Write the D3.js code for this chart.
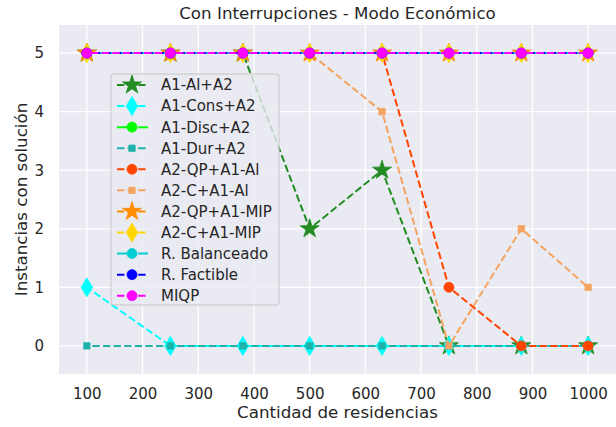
<!DOCTYPE html>
<html>
<head>
<meta charset="utf-8">
<script src="https://cdn.jsdelivr.net/npm/d3@7"></script>
<style>
  html, body { margin: 0; padding: 0; background: #ffffff; }
  svg { display: block; font-family: "DejaVu Sans", sans-serif; }
</style>
</head>
<body>
<svg id="chart" width="616" height="427"></svg>
<script>
// ---- data ----
const sizes = [100, 250, 380, 500, 630, 750, 880, 1000];
const xTicks = [100, 200, 300, 400, 500, 600, 700, 800, 900, 1000];
const yTicks = [0, 1, 2, 3, 4, 5];

const a1AlA2      = [5, 5, 5, 2, 3, 0, 0, 0];
const a1ConsA2    = [1, 0, 0, 0, 0, 0, 0, 0];
const a1DiscA2    = [5, 5, 5, 5, 5, 5, 5, 5];
const a1DurA2     = [0, 0, 0, 0, 0, 0, 0, 0];
const a2QPA1Al    = [5, 5, 5, 5, 5, 1, 0, 0];
const a2CA1Al     = [5, 5, 5, 5, 4, 0, 2, 1];
const a2QPA1MIP   = [5, 5, 5, 5, 5, 5, 5, 5];
const a2CA1MIP    = [5, 5, 5, 5, 5, 5, 5, 5];
const rBalanceado = [5, 5, 5, 5, 5, 5, 5, 5];
const rFactible   = [5, 5, 5, 5, 5, 5, 5, 5];
const miqp        = [5, 5, 5, 5, 5, 5, 5, 5];

const seriesNames = ["A1-Al+A2", "A1-Cons+A2", "A1-Disc+A2", "A1-Dur+A2", "A2-QP+A1-Al",
  "A2-C+A1-Al", "A2-QP+A1-MIP", "A2-C+A1-MIP", "R. Balanceado", "R. Factible", "MIQP"];
const seriesValues = [a1AlA2, a1ConsA2, a1DiscA2, a1DurA2, a2QPA1Al, a2CA1Al,
  a2QPA1MIP, a2CA1MIP, rBalanceado, rFactible, miqp];

const title = "Con Interrupciones - Modo Económico";
const xLabel = "Cantidad de residencias";
const yLabel = "Instancias con solución";

// ---- styles ----
const DASH = "7.4,3.2";
const DASHDOT = "12.8,3.2,2,3.2";
const styles = [
  { color: "#228B22", marker: "star", dash: DASH },
  { color: "#00FFFF", marker: "thin", dash: DASH },
  { color: "#00FF00", marker: "circle", dash: DASHDOT },
  { color: "#20B2AA", marker: "square", dash: DASH },
  { color: "#FF4500", marker: "circle", dash: DASH },
  { color: "#F4A460", marker: "square", dash: DASH },
  { color: "#FF8C00", marker: "star", dash: DASH },
  { color: "#FFD700", marker: "thin", dash: DASH },
  { color: "#00CED1", marker: "circle", dash: DASHDOT },
  { color: "#0000FF", marker: "circle", dash: DASH },
  { color: "#FF00FF", marker: "circle", dash: DASH }
];

const TEXT = "#262626";
const svg = d3.select("#chart");
const L = 59, R = 616, T = 25, B = 374;

const x = d3.scaleLinear().domain([50, 1050]).range([L, R]);
const y = d3.scaleLinear().domain([-0.48, 5.48]).range([B, T]);

function markerPath(type) {
  if (type === "star") {
    const Ro = 10, Ri = Ro * 0.381966;
    const pts = [];
    for (let k = 0; k < 10; k++) {
      const a = (-90 + k * 36) * Math.PI / 180;
      const r = k % 2 === 0 ? Ro : Ri;
      pts.push([r * Math.cos(a), r * Math.sin(a)]);
    }
    return "M" + pts.map(p => p[0].toFixed(2) + "," + p[1].toFixed(2)).join("L") + "Z";
  }
  if (type === "thin") {
    const hh = 9.5, hw = 5.7;
    return `M0,${-hh}L${hw},0L0,${hh}L${-hw},0Z`;
  }
  if (type === "square") {
    const h = 3.2;
    return `M${-h},${-h}L${h},${-h}L${h},${h}L${-h},${h}Z`;
  }
  const r = 5;
  return `M${r},0A${r},${r} 0 1,1 ${-r},0A${r},${r} 0 1,1 ${r},0Z`;
}

// background
svg.append("rect").attr("x", L).attr("y", T).attr("width", R - L).attr("height", B - T)
  .attr("fill", "#EAEAF2");

// grid
const grid = svg.append("g");
grid.selectAll(".gx").data(xTicks).enter().append("line")
  .attr("x1", d => x(d)).attr("x2", d => x(d)).attr("y1", T).attr("y2", B)
  .attr("stroke", "#ffffff").attr("stroke-width", 1.3);
grid.selectAll(".gy").data(yTicks).enter().append("line")
  .attr("x1", L).attr("x2", R).attr("y1", d => y(d)).attr("y2", d => y(d))
  .attr("stroke", "#ffffff").attr("stroke-width", 1.3);

// axes (tick labels only)
const xAxis = svg.append("g").attr("transform", `translate(0,${B})`)
  .call(d3.axisBottom(x).tickValues(xTicks).tickSize(0).tickPadding(14).tickFormat(d3.format("d")));
const yAxis = svg.append("g").attr("transform", `translate(${L},0)`)
  .call(d3.axisLeft(y).tickValues(yTicks).tickSize(0).tickPadding(15).tickFormat(d3.format("d")));
[xAxis, yAxis].forEach(a => {
  a.select(".domain").remove();
  a.selectAll("text").attr("fill", TEXT).attr("font-size", 15)
    .attr("font-family", "DejaVu Sans, sans-serif");
});

// series
svg.append("clipPath").attr("id", "clip").append("rect")
  .attr("x", L).attr("y", T).attr("width", R - L).attr("height", B - T);
const plot = svg.append("g").attr("clip-path", "url(#clip)");
const line = d3.line().x((d, i) => x(sizes[i])).y(d => y(d));

seriesValues.forEach((vals, si) => {
  const st = styles[si];
  const g = plot.append("g");
  g.append("path").attr("d", line(vals)).attr("fill", "none")
    .attr("stroke", st.color).attr("stroke-width", 2).attr("stroke-dasharray", st.dash)
    .attr("stroke-dashoffset", si * 1.7);
  g.selectAll("path.m").data(vals).enter().append("path").attr("class", "m")
    .attr("d", markerPath(st.marker))
    .attr("transform", (d, i) => `translate(${x(sizes[i])},${y(d)})`)
    .attr("fill", st.color).attr("stroke", st.color).attr("stroke-width", 0.8);
});

// legend
const lg = svg.append("g");
const lx = 111, ly = 74, lw = 168, lh = 231;
lg.append("rect").attr("x", lx).attr("y", ly).attr("width", lw).attr("height", lh)
  .attr("rx", 3).attr("fill", "#EAEAF2").attr("fill-opacity", 0.8)
  .attr("stroke", "#cccccc").attr("stroke-opacity", 0.8).attr("stroke-width", 1.3);
seriesNames.forEach((name, i) => {
  const st = styles[i];
  const cy = 85 + i * 21.07;
  lg.append("line").attr("x1", 117).attr("x2", 148).attr("y1", cy).attr("y2", cy)
    .attr("stroke", st.color).attr("stroke-width", 2).attr("stroke-dasharray", st.dash);
  lg.append("path").attr("d", markerPath(st.marker))
    .attr("transform", `translate(132,${cy})`)
    .attr("fill", st.color).attr("stroke", st.color).attr("stroke-width", 0.8);
  lg.append("text").attr("x", 161).attr("y", cy).attr("dy", "0.36em")
    .attr("fill", TEXT).attr("font-size", 15).text(name);
});

// titles
svg.append("text").attr("x", (L + R) / 2).attr("y", 18.5).attr("text-anchor", "middle")
  .attr("fill", TEXT).attr("font-size", 16.7).text(title);
svg.append("text").attr("x", (L + R) / 2).attr("y", 418).attr("text-anchor", "middle")
  .attr("fill", TEXT).attr("font-size", 16.7).text(xLabel);
svg.append("text").attr("transform", `translate(27,${(T + B) / 2}) rotate(-90)`)
  .attr("text-anchor", "middle").attr("fill", TEXT).attr("font-size", 16.7).text(yLabel);
</script>
</body>
</html>
